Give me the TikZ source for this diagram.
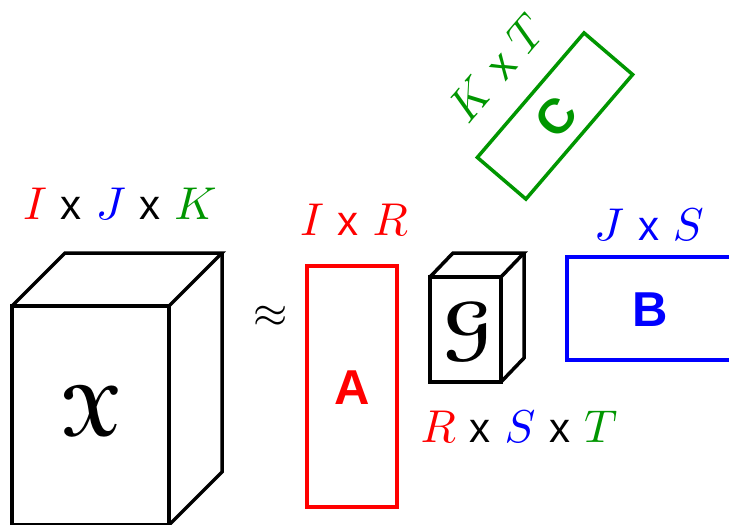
\documentclass[tikz,border=0pt]{standalone}
\usepackage{amssymb}
\usepackage[mathscr]{eucal}
\usepackage{fontspec}
\setsansfont{Liberation Sans}
\usepackage{graphicx}
\definecolor{tgreen}{RGB}{0,150,0}
\newcommand\timesx{{\fontsize{42}{46}\selectfont\sffamily x}}
\newcommand\mlet[1]{\scalebox{4.6}{\fontsize{10}{12}\selectfont$#1$}}
\newcommand\tensorletter[1]{\scalebox{7.2}{\fontsize{10}{12}\selectfont\boldmath$\mathscr{#1}$}}
\begin{document}
\begin{tikzpicture}[x=1pt,y=-1pt,
  edge/.style={line width=3.5pt, line join=miter},
  dimlabel/.style={anchor=base, inner sep=0pt, font=\fontsize{46}{50}\selectfont},
  matbox/.style={line width=3.5pt, draw, inner sep=0pt},
  matname/.style={inner sep=0pt, font=\fontsize{49}{52}\selectfont\sffamily\bfseries},
  frak/.style={inner sep=0pt}]
\useasboundingbox (0,0) rectangle (729,525);
% big cube X
\draw[edge] (12,306) rectangle (169,525);
\draw[edge] (12,306) -- (65,253) -- (222,253) -- (169,306);
\draw[edge] (222,253) -- (222,472) -- (169,525);
\node[frak] (X) at (92,411) {\tensorletter{X}};
\node[dimlabel] (Xdim) at (120,219) {{\color{red}\mlet{I}} \timesx{} {\color{blue}\mlet{J}} \timesx{} {\color{tgreen}\mlet{K}}};
% approx
\node[inner sep=0pt] (approx) at (271,317) {\scalebox{4.4}{\fontsize{10}{12}\selectfont$\approx$}};
% A
\node[matbox, draw=red, minimum width=90pt, minimum height=241pt] (A) at (352,386.5) {};
\node[matname, text=red] (Aname) at (352,388) {A};
\node[dimlabel, text=red] (Adim) at (354,235) {\mlet{I} \timesx{} \mlet{R}};
% small cube G
\draw[edge] (430,277) rectangle (501,382);
\draw[edge] (430,277) -- (453,253) -- (524,253) -- (501,277);
\draw[edge] (524,253) -- (524,358) -- (501,382);
\node[frak] (G) at (468,332) {\tensorletter{G}};
\node[dimlabel] (Gdim) at (519,442) {{\color{red}\mlet{R}} \timesx{} {\color{blue}\mlet{S}} \timesx{} {\color{tgreen}\mlet{T}}};
% B
\draw[line width=3.5pt, blue] (740,257) -- (567,257) -- (567,360) -- (740,360);
\node[matname, text=blue] (Bname) at (650,310) {B};
\node[dimlabel, text=blue] (Bdim) at (649,240) {\mlet{J} \timesx{} \mlet{S}};
% C
\node[matbox, draw=tgreen, minimum width=164pt, minimum height=64pt, rotate=49.4] (C) at (555,116) {};
\node[matname, text=tgreen, rotate=49.4] (Cname) at (556,117) {C};
\node[inner sep=0pt, text=tgreen, rotate=49.4, font=\fontsize{46}{50}\selectfont] (Cdim) at (497,68) {\mlet{K} \timesx{} \mlet{T}};
\end{tikzpicture}
\end{document}
